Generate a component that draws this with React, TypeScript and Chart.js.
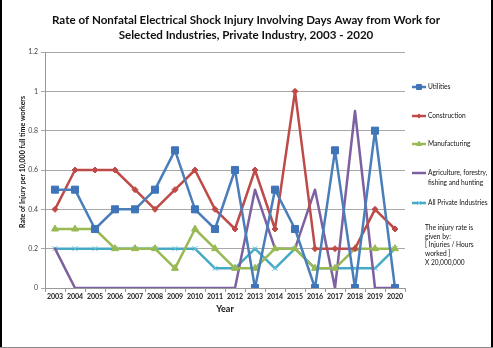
import { useEffect, useRef } from "react";
import { Chart, registerables } from "chart.js";
import { drawPoint } from "chart.js/helpers";

Chart.register(...registerables);

const years = ["2003","2004","2005","2006","2007","2008","2009","2010","2011","2012","2013","2014","2015","2016","2017","2018","2019","2020"];
const utilities = [0.5,0.5,0.3,0.4,0.4,0.5,0.7,0.4,0.3,0.6,0,0.5,0.3,0,0.7,0,0.8,0];
const construction = [0.4,0.6,0.6,0.6,0.5,0.4,0.5,0.6,0.4,0.3,0.6,0.3,1.0,0.2,0.2,0.2,0.4,0.3];
const manufacturing = [0.3,0.3,0.3,0.2,0.2,0.2,0.1,0.3,0.2,0.1,0.1,0.2,0.2,0.1,0.1,0.2,0.2,0.2];
const agriculture = [0.2,0,0,0,0,0,0,0,0,0,0.5,0.2,0.2,0.5,0,0.9,0,0];
const allPrivate = [0.2,0.2,0.2,0.2,0.2,0.2,0.2,0.2,0.1,0.1,0.2,0.1,0.2,0.1,0.1,0.1,0.1,0.2];

const seriesNames = ["Utilities","Construction","Manufacturing","Agriculture, forestry, fishing and hunting","All Private Industries"];
const legendLines = [["Utilities"],["Construction"],["Manufacturing"],["Agriculture, forestry,","fishing and hunting"],["All Private Industries"]];
const noteLines = ["The injury rate is","given by:","[ Injuries / Hours","worked ]","X 20,000,000"];
const titleLines = ["Rate of Nonfatal Electrical Shock Injury Involving Days Away from Work for","Selected Industries, Private Industry, 2003 - 2020"];
const yTitle = "Rate of Injury per 10,000 full time workers";
const xTitle = "Year";

const colors = ["#4A7EBB","#BE4B48","#98B954","#7D60A0","#46AAC5"];
const markerColors = ["#3F74B8","#BE4B48","#98B954","#7D60A0","#5BC0DE"];
const markers = ["rect","rectRot","triangle","circle","crossRot"];
const markerRadius = [5,3,4,0,3.5];

const FONT = "Lato, 'Open Sans', sans-serif";

export default function App() {
  const ref = useRef<HTMLCanvasElement>(null);
  useEffect(() => {
    document.body.style.margin = "0";
    const canvas = ref.current!;
    const data = [utilities, construction, manufacturing, agriculture, allPrivate];
    const deco = {
      id: "deco",
      afterDraw(chart: any) {
        const ctx = chart.ctx as CanvasRenderingContext2D;
        ctx.save();
        // borders
        ctx.fillStyle = "#000";
        ctx.fillRect(0, 0, 2, 348);
        ctx.fillRect(491, 0, 2, 348);
        ctx.fillStyle = "#888";
        ctx.fillRect(0, 347, 493, 1);
        // title
        ctx.fillStyle = "#111";
        ctx.textAlign = "center";
        ctx.textBaseline = "middle";
        ctx.font = `bold 11.6px ${FONT}`;
        ctx.fillText(titleLines[0], 246, 20);
        ctx.fillText(titleLines[1], 246, 35);
        // x title
        ctx.font = `bold 9px ${FONT}`;
        ctx.fillText(xTitle, 225, 309);
        // y title
        ctx.save();
        ctx.translate(23, 162);
        ctx.rotate(-Math.PI / 2);
        ctx.font = `bold 7px ${FONT}`;
        ctx.fillText(yTitle, 0, 0);
        ctx.restore();
        // legend
        const ys = [87, 116, 144, 173, 203];
        ctx.textAlign = "left";
        ctx.font = `6.6px ${FONT}`;
        for (let i = 0; i < 5; i++) {
          const y = ys[i];
          ctx.strokeStyle = colors[i];
          ctx.lineWidth = 2.5;
          ctx.beginPath();
          ctx.moveTo(412, y);
          ctx.lineTo(426, y);
          ctx.stroke();
          if (markerRadius[i] > 0) {
            ctx.fillStyle = markerColors[i];
            ctx.strokeStyle = markerColors[i];
            ctx.lineWidth = 1;
            drawPoint(ctx, { pointStyle: markers[i], radius: markerRadius[i] * 0.7, rotation: 0, borderWidth: 1 } as any, 419, y);
          }
          ctx.fillStyle = "#111";
          legendLines[i].forEach((t, k) => ctx.fillText(t, 428, y + k * 10));
        }
        noteLines.forEach((t, k) => ctx.fillText(t, 425, 228 + k * 8.6));
        ctx.restore();
      },
    };
    const chart = new Chart(canvas, {
      type: "line",
      data: {
        labels: years,
        datasets: data.map((d, i) => ({
          label: seriesNames[i],
          data: d,
          borderColor: colors[i],
          backgroundColor: markerColors[i],
          pointBackgroundColor: markerColors[i],
          pointBorderColor: markerColors[i],
          pointStyle: markers[i] as any,
          pointRadius: markerRadius[i],
          pointBorderWidth: 1,
          borderWidth: 2.5,
          borderJoinStyle: "round" as any,
          borderCapStyle: "round" as any,
          tension: 0,
          fill: false,
        })),
      },
      options: {
        responsive: false,
        animation: false,
        layout: { padding: { left: 0, top: 52, right: 88, bottom: 0 } },
        plugins: { legend: { display: false }, tooltip: { enabled: false }, title: { display: false } },
        scales: {
          x: {
            offset: true,
            grid: { offset: true, drawOnChartArea: false, drawTicks: true, tickLength: 4, color: "#999" },
            border: { color: "#999" },
            ticks: { color: "#222", font: { family: FONT, size: 7, weight: "bold" }, padding: 1, maxRotation: 0, autoSkip: false },
            afterFit: (s: any) => { s.height = 60; },
          },
          y: {
            min: 0,
            max: 1.2,
            ticks: { stepSize: 0.2, color: "#444", font: { family: FONT, size: 7 }, padding: 3, callback: (v: any) => String(Math.round(Number(v) * 10) / 10) },
            grid: { color: "#a8a8a8", lineWidth: 1, tickLength: 4 },
            border: { color: "#999" },
            afterFit: (s: any) => { s.width = 45; },
          },
        },
      },
      plugins: [deco],
    });
    return () => chart.destroy();
  }, []);
  return <canvas ref={ref} width={493} height={348} style={{ display: "block" }} />;
}
